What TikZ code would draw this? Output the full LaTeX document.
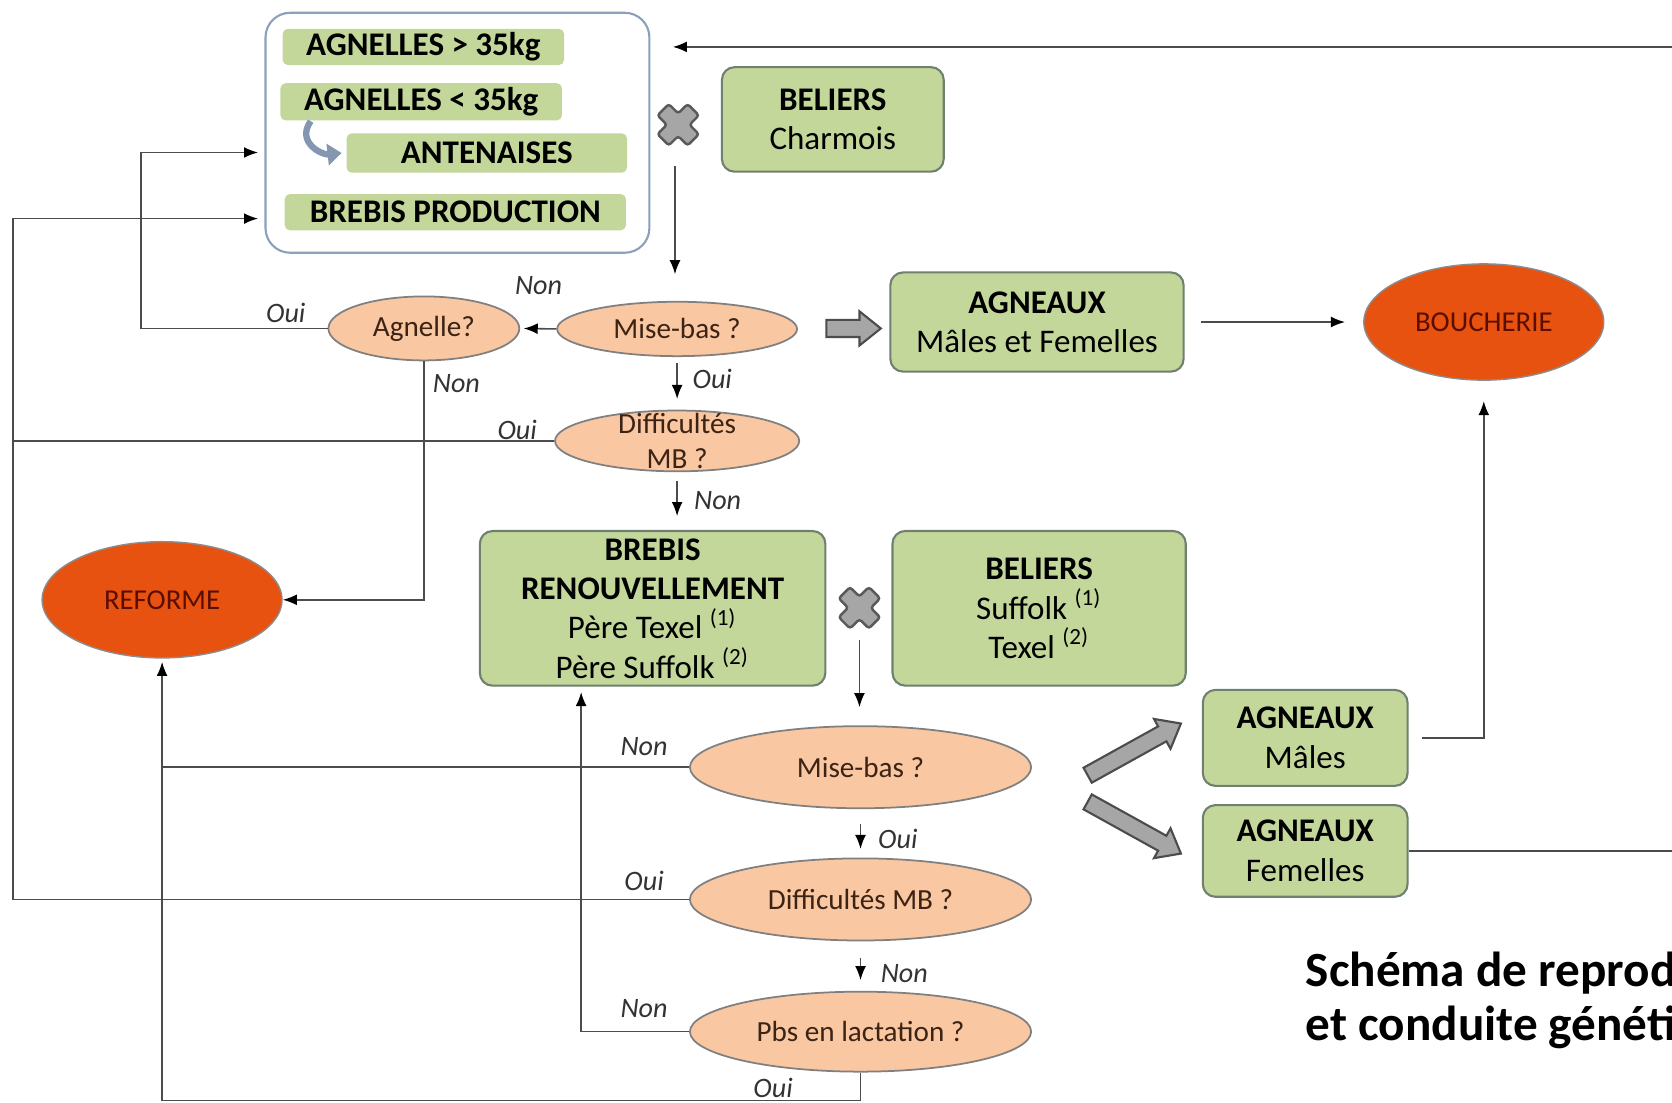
\documentclass[tikz,border=0pt]{standalone}
\usepackage{fontspec}
\setmainfont{Carlito}
\usepackage{xcolor}
\usepackage{tikz}
\usetikzlibrary{shapes.geometric, arrows.meta, positioning, calc}
\definecolor{vertclair}{RGB}{196,215,155}
\definecolor{bordvert}{RGB}{112,128,112}
\definecolor{bordcadre}{RGB}{140,160,190}
\definecolor{peche}{RGB}{249,199,162}
\definecolor{rouille}{RGB}{232,82,16}
\definecolor{bordeaux}{RGB}{90,14,0}
\definecolor{brun}{RGB}{60,35,20}
\definecolor{grisfleche}{RGB}{166,166,166}
\definecolor{courbebleu}{RGB}{132,150,176}
\newlength{\unitpx}
\setlength{\unitpx}{0.010663cm}
\tikzstyle{fleche} = [line width=0.45pt, draw=black!70, -{Latex[length=4pt,width=3.1pt,color=black]}]
\tikzstyle{trait} = [line width=0.45pt, draw=black!70]
% croix grise entre deux lots
\newcommand{\croix}[1]{\draw[fill=grisfleche, draw=black!65, line width=0.7pt, rounded corners=0.8pt, shift={(#1)}, rotate=45] (7.5,7.5) -- (7.5,20) -- (-7.5,20) -- (-7.5,7.5) -- (-20,7.5) -- (-20,-7.5) -- (-7.5,-7.5) -- (-7.5,-20) -- (7.5,-20) -- (7.5,-7.5) -- (20,-7.5) -- (20,7.5) -- cycle;}
% grosse fleche : depart, longueur, angle
\newcommand{\grossefleche}[3]{\draw[fill=grisfleche, draw=black!70, line width=0.6pt, shift={(#1)}, rotate=#3] (0,-8) -- ({#2-20},-8) -- ({#2-20},-16) -- (#2,0) -- ({#2-20},16) -- ({#2-20},8) -- (0,8) -- cycle;}

\begin{document}
\begin{tikzpicture}[
    x=0.010663cm, y=-0.010663cm,
    boite/.style={rectangle, rounded corners=3.6pt, draw=bordvert, line width=0.6pt, fill=vertclair, inner sep=0pt, align=center, font=\fontsize{9.4}{11.2}\selectfont},
    etiquette/.style={rectangle, rounded corners=1.5pt, fill=vertclair, inner sep=0pt, font=\bfseries\fontsize{9.4}{11.2}\selectfont},
    question/.style={ellipse, draw=black!50, line width=0.5pt, fill=peche, inner sep=0pt, text=brun, font=\fontsize{8.3}{10}\selectfont},
    issue/.style={ellipse, draw=black!45, line width=0.4pt, fill=rouille, inner sep=0pt, text=bordeaux, minimum width=225\unitpx, minimum height=109\unitpx, font=\fontsize{8.2}{10}\selectfont},
    reponse/.style={inner sep=0pt, text=black!80, font=\itshape\fontsize{8}{9.6}\selectfont},
    croixnode/.style={inner sep=0pt, minimum size=40\unitpx},
    titre/.style={inner sep=0pt, font=\bfseries\fontsize{14}{15.2}\selectfont}
]
\path[use as bounding box, fill=white] (0,0) rectangle (1568,1034);

% Lots de brebis
\node[draw=bordcadre, line width=0.6pt, rounded corners=7pt, minimum width=360\unitpx, minimum height=225\unitpx] (lots) at (429,124.5) {};
\node[etiquette, minimum width=264\unitpx, minimum height=34\unitpx] (agA) at (397,44) {AGNELLES > 35kg};
\node[etiquette, minimum width=264\unitpx, minimum height=35\unitpx] (agB) at (395,95.5) {AGNELLES < 35kg};
\node[etiquette, minimum width=263\unitpx, minimum height=37\unitpx] (ant) at (456.5,143.5) {ANTENAISES};
\node[etiquette, minimum width=320\unitpx, minimum height=34\unitpx] (brP) at (427,199) {BREBIS PRODUCTION};
\draw[line width=1.8pt, courbebleu, -{Triangle[length=4pt,width=6pt]}] ([xshift=29\unitpx]agB.south west) .. controls +(-14,20) and +(-18,2) .. ([xshift=-4\unitpx]ant.west);

% Beliers Charmois
\node[croixnode] (crossA) at (636,117) {};
\croix{crossA}
\node[boite, minimum width=208\unitpx, minimum height=98\unitpx] (belA) at (781,112) {\textbf{BELIERS}\\Charmois};

% Premiere mise-bas
\node[question, minimum width=225\unitpx, minimum height=51\unitpx] (mbA) at (635,308.5) {Mise-bas ?};
\node[question, minimum width=179\unitpx, minimum height=60\unitpx] (agn) at (397.5,308) {Agnelle?};
\node[question, align=center, inner ysep=-3pt, minimum width=229\unitpx, minimum height=57\unitpx] (dfA) at (635,413.5) {Difficultés\\MB ?};

% Agneaux
\grossefleche{775,308}{51}{0}
\node[boite, minimum width=275\unitpx, minimum height=93\unitpx] (agMF) at (972.5,302) {\textbf{AGNEAUX}\\Mâles et Femelles};
\node[issue] (bou) at (1391.5,302) {BOUCHERIE};

% Brebis renouvellement
\node[boite, minimum width=324\unitpx, minimum height=145\unitpx] (brR) at (612,570.5) {\textbf{BREBIS}\\\textbf{RENOUVELLEMENT}\\Père Texel \textsuperscript{(1)}\\Père Suffolk \textsuperscript{(2)}};
\node[croixnode] (crossB) at (806,570) {};
\croix{crossB}
\node[boite, minimum width=275\unitpx, minimum height=145\unitpx] (belB) at (974.5,570.5) {\textbf{BELIERS}\\Suffolk \textsuperscript{(1)}\\Texel \textsuperscript{(2)}};
\node[issue] (ref) at (152,562.5) {REFORME};

% Seconde mise-bas
\node[question, minimum width=320\unitpx, minimum height=77\unitpx] (mbB) at (807,719.5) {Mise-bas ?};
\node[question, minimum width=320\unitpx, minimum height=77\unitpx] (dfB) at (807,843.5) {Difficultés MB ?};
\node[question, minimum width=320\unitpx, minimum height=75\unitpx] (pbB) at (807,967.5) {Pbs en lactation ?};

\grossefleche{1020,727}{100}{29}
\grossefleche{1020,752}{100}{-29}
\node[boite, minimum width=192\unitpx, minimum height=90\unitpx] (agM) at (1224,692) {\textbf{AGNEAUX}\\Mâles};
\node[boite, minimum width=192\unitpx, minimum height=86\unitpx] (agF) at (1224,798) {\textbf{AGNEAUX}\\Femelles};

\node[titre, anchor=west, align=left] (titre) at (1224,938) {Schéma de reprod\\et conduite généti};

% Coins
\coordinate (bordD) at (1568,44);
\coordinate (coinA) at (132,143);
\coordinate (coinB) at (12,205);
\coordinate (coinC) at (810,1032);
\coordinate (coinD) at (545,967.5);

% Liaisons
\draw[fleche, shorten >=21\unitpx] (bordD) -- (lots.east |- bordD);
\draw[fleche, shorten <=18\unitpx, shorten >=25\unitpx] ([xshift=-3\unitpx]crossA.south) -- ([xshift=-3\unitpx]crossA.south |- mbA.north);
\draw[fleche, shorten >=1pt] (mbA.west) -- (agn.east);
\draw[fleche, shorten >=6\unitpx] (agn.west) -| (coinA) -- (lots.west |- coinA);
\draw[fleche] (agn.south) |- (ref.east);
\draw[fleche, shorten <=6\unitpx, shorten >=10\unitpx] (mbA.south) -- (mbA.south |- dfA.north);
\draw[fleche, shorten >=6\unitpx] (dfA.west) -| (coinB) -- (lots.west |- coinB);
\draw[fleche, shorten <=8\unitpx, shorten >=13\unitpx] (dfA.south) -- (dfA.south |- brR.north);
\draw[fleche, shorten <=15\unitpx, shorten >=17\unitpx] (agMF.east) -- (bou.west);
\draw[fleche, shorten <=13\unitpx, shorten >=19\unitpx] (agM.east) -| (bou.south);
\draw[trait] (agF.east) -- (agF.east -| bordD);
\draw[fleche, shorten <=10\unitpx, shorten >=17\unitpx] (crossB.south) -- (crossB.south |- mbB.north);
\draw[trait] (mbB.west) -- (mbB.west -| ref.south);
\draw[fleche, shorten <=14\unitpx, shorten >=8\unitpx] (mbB.south) -- (mbB.south |- dfB.north);
\draw[trait] (dfB.west) -| (coinB);
\draw[fleche, shorten <=16\unitpx, shorten >=10\unitpx] (dfB.south) -- (dfB.south |- pbB.north);
\draw[fleche, shorten >=5\unitpx] (pbB.west) -- (coinD) -- (coinD |- brR.south);
\draw[fleche, shorten >=3\unitpx] (pbB.south) -- (pbB.south |- coinC) -| (ref.south);

% Reponses
\node[reponse] (rNonA) at (505,268) {Non};
\node[reponse] (rOuiA) at (268,293) {Oui};
\node[reponse] (rNonB) at (428,360) {Non};
\node[reponse] (rOuiB) at (668,355) {Oui};
\node[reponse] (rOuiC) at (485,403) {Oui};
\node[reponse] (rNonC) at (673,469) {Non};
\node[reponse] (rNonD) at (604,700) {Non};
\node[reponse] (rOuiD) at (842,787) {Oui};
\node[reponse] (rOuiE) at (604,826) {Oui};
\node[reponse] (rNonE) at (848,913) {Non};
\node[reponse] (rNonF) at (604,946) {Non};
\node[reponse] (rOuiF) at (725,1020) {Oui};

\end{tikzpicture}
\end{document}
